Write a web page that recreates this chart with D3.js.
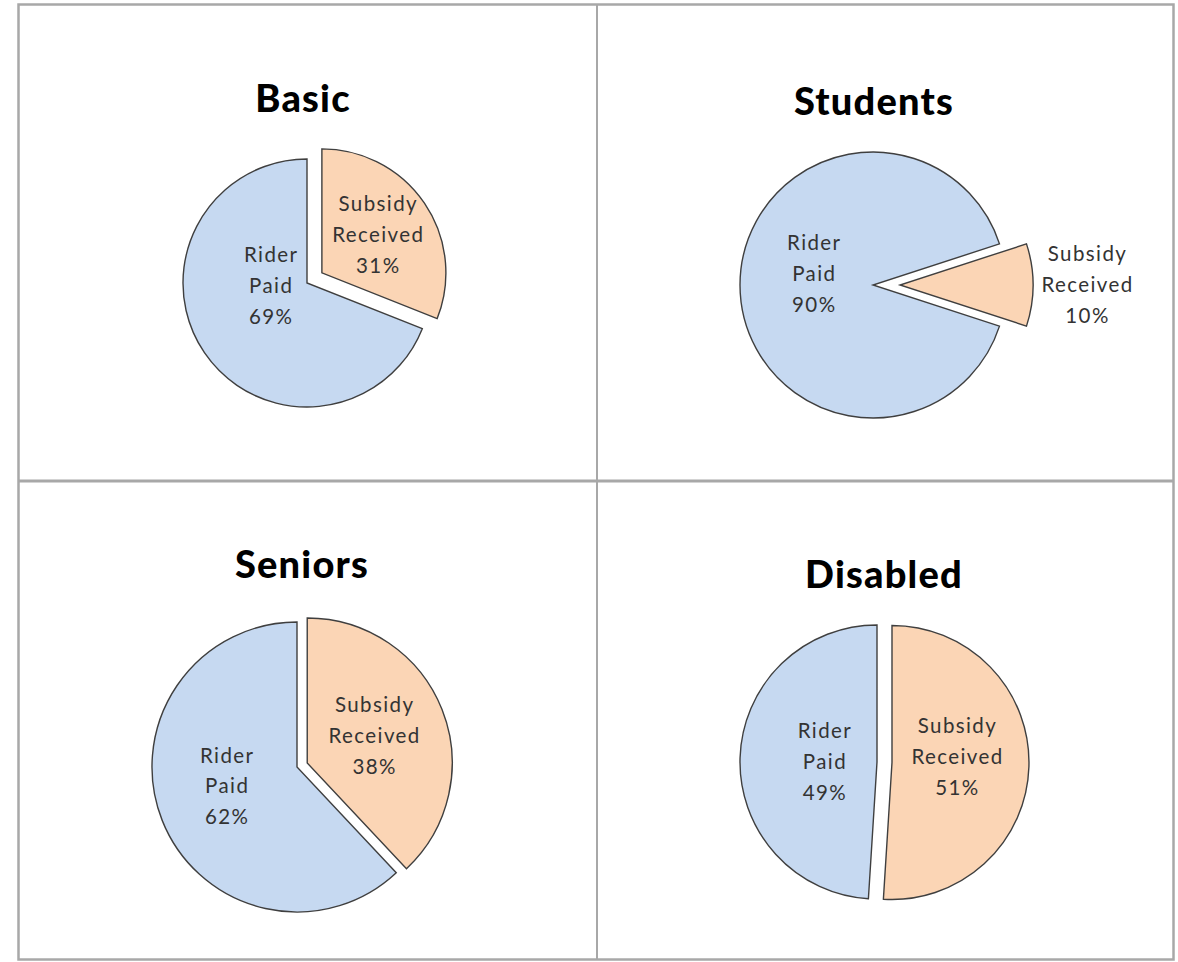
<!DOCTYPE html>
<html>
<head>
<meta charset="utf-8">
<script src="https://cdn.jsdelivr.net/npm/d3@7"></script>
<style>
  body { margin: 0; background: #fff; }
  .title { font-family: Lato, "Open Sans", sans-serif; font-weight: 900; font-size: 38px; fill: #000; letter-spacing: 1.2px; }
  .label { font-family: Lato, "Open Sans", sans-serif; font-size: 20.5px; fill: #333; letter-spacing: 1.4px; }
  .grid { stroke: #a8a8a8; fill: none; }
</style>
</head>
<body>
<script>
// chart data
var panels = ["Basic", "Students", "Seniors", "Disabled"];
var categories = ["Subsidy Received", "Rider Paid"];
var subsidyReceived = [31, 10, 38, 51];
var riderPaid = [69, 90, 62, 49];

// layout of each panel (pixels / degrees), same order as panels
var layout = [
    {tx: 303, ty: 112, cx: 307, cy: 283, r: 124, explode: 18, start: 0,
     lab: [{k: 0.55, nudge: 0}, {k: 0.29, nudge: 29}]},
    {tx: 874, ty: 115, cx: 873, cy: 285, r: 133, explode: 27, start: 72,
     lab: [{k: 1.41, nudge: 0}, {k: 0.45, nudge: 11}]},
    {tx: 302, ty: 578, cx: 297, cy: 767, r: 145, explode: 11, start: 0,
     lab: [{k: 0.5, nudge: 0}, {k: 0.5, nudge: 6}]},
    {tx: 884, ty: 588, cx: 877, cy: 762, r: 137, explode: 15, start: 0,
     lab: [{k: 0.48, nudge: -7}, {k: 0.38, nudge: -2}]}
];

var colors = d3.scaleOrdinal().domain(categories).range(["#FBD5B5", "#C6D9F1"]);

var width = 1178, height = 962;
var svg = d3.select("body").append("svg")
    .attr("width", width)
    .attr("height", height);

// panel borders
svg.append("rect").attr("class", "grid")
    .attr("x", 18.5).attr("y", 4.5)
    .attr("width", 1155).attr("height", 955)
    .style("stroke-width", 2.5);
svg.append("line").attr("class", "grid")
    .attr("x1", 597).attr("x2", 597).attr("y1", 4).attr("y2", 960)
    .style("stroke-width", 2);
svg.append("line").attr("class", "grid")
    .attr("x1", 18).attr("x2", 1174).attr("y1", 481).attr("y2", 481)
    .style("stroke-width", 3);

var rad = Math.PI / 180;
var lineH = 31;

panels.forEach(function(name, i) {
    var L = layout[i];
    var values = [subsidyReceived[i], riderPaid[i]];

    var pie = d3.pie().sort(null)
        .startAngle(L.start * rad)
        .endAngle(L.start * rad + 2 * Math.PI);
    var arcs = pie(values);

    var arc = d3.arc().innerRadius(0).outerRadius(L.r);

    var g = svg.append("g")
        .attr("transform", "translate(" + L.cx + "," + L.cy + ")");

    // only the subsidy slice is pulled out
    function offset(d, j) {
        if (j != 0) return [0, 0];
        var a = (d.startAngle + d.endAngle) / 2;
        return [L.explode * Math.sin(a), -L.explode * Math.cos(a)];
    }

    g.selectAll("path")
        .data(arcs)
        .enter()
        .append("path")
            .attr("d", arc)
            .attr("transform", function(d, j) {
                var o = offset(d, j);
                return "translate(" + o[0] + "," + o[1] + ")";
            })
            .style("fill", function(d, j) { return colors(categories[j]); })
            .style("stroke", "#3f3f3f")
            .style("stroke-width", 1.4)
            .style("stroke-linejoin", "miter");

    // data labels: two words of the category + percent
    arcs.forEach(function(d, j) {
        var o = offset(d, j);
        var a = (d.startAngle + d.endAngle) / 2 + L.lab[j].nudge * rad;
        var R = L.lab[j].k * L.r;
        var x = o[0] + R * Math.sin(a);
        var y = o[1] - R * Math.cos(a);
        var lines = categories[j].split(" ").concat([values[j] + "%"]);
        var t = g.append("text").attr("class", "label")
            .style("text-anchor", "middle");
        lines.forEach(function(s, k) {
            t.append("tspan")
                .attr("x", x)
                .attr("y", y + (k - 1) * lineH + 7)
                .text(s);
        });
    });

    svg.append("text").attr("class", "title")
        .attr("x", L.tx)
        .attr("y", L.ty)
        .style("text-anchor", "middle")
        .text(name);
});
</script>
</body>
</html>
